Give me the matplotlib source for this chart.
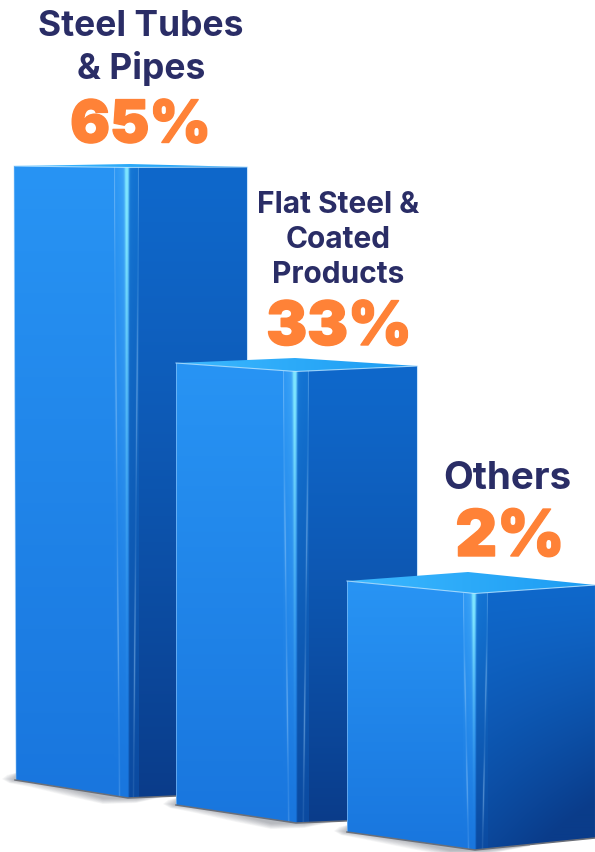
import numpy as np
import matplotlib
matplotlib.use('Agg')
import matplotlib.pyplot as plt
import matplotlib.patheffects as pe
from matplotlib.patches import Polygon
from matplotlib.colors import to_rgb

# --- chart data ---
categories = [['Steel Tubes', '& Pipes'],
              ['Flat Steel &', 'Coated', 'Products'],
              ['Others']]
shares = [65, 33, 2]
# the columns are pictorial: drawn height (px) at each stated share
scale_shares = [2, 33, 65]
scale_heights = [251, 442, 614]

W, H = 595, 852
NAVY = '#2a2d66'
ORANGE = '#ff8237'
FONT = ['Inter', 'DejaVu Sans']

# column outlines in canvas px, y measured down from the top
LEFT_X = [15, 176, 347]
BAND_X = [(114, 139), (283, 309), (463, 488)]
CORNER_X = [128, 296, 475]
RIGHT_X = [247, 417, 595]
BASE_Y = [780, 805, 832]
FRONT_DROP = 18     # front corner sits this far below the left edge
RIGHT_RISE = [5, 5, 12]
TOP_CORNER = [1, 8, 12]
TOP_RIGHT = [1, 3, 4]
TOP_APEX = [-2, -5, -9]
APEX_X = [130, 295, 468]
RIGHT_DARK = [0.0, 0.0, 1.0]
SHADOW_END = [176, 347, 530]

LABEL_X = [141, 338, 507]
LABEL_Y = [[27, 68], [205, 240, 275], [479]]
LABEL_SIZE = [25.5, 21.5, 27.8]
PCT_X = [140.5, 339, 510]
PCT_Y = [127, 329, 539]
PCT_SIZE = [42.5, 44, 46.5]


def mix(a, b, t):
    a, b = np.array(to_rgb(a)), np.array(to_rgb(b))
    t = np.asarray(t)[..., None]
    return a * (1 - t) + b * t


def over(rgb, colour, amount):
    amount = np.clip(amount, 0, 1)[..., None]
    return rgb * (1 - amount) + np.array(to_rgb(colour)) * amount


def paint(ax, pts, rgb, zorder):
    # fill a polygon with a gradient image clipped to its outline
    xs = [p[0] for p in pts]
    ys = [p[1] for p in pts]
    extent = (min(xs), max(xs), max(ys), min(ys))
    im = ax.imshow(rgb, extent=extent, aspect='auto', interpolation='bilinear', zorder=zorder)
    patch = Polygon(pts, closed=True, transform=ax.transData, fc='none', ec='none')
    ax.add_patch(patch)
    im.set_clip_path(patch)
    ax.set_xlim(0, W)
    ax.set_ylim(H, 0)


def grid(nx, ny):
    return np.meshgrid(np.linspace(0, 1, nx), np.linspace(0, 1, ny))


def draw_shadow(ax, x0, xc, x_end, y_base, y_front, zorder):
    # soft grey halo under the front edges, stacked translucent shapes
    x_mid = (x0 + xc) / 2
    y_mid = (y_base + y_front) / 2
    y_end = y_front - 5
    for s in np.linspace(1.0, 0.1, 10):
        pts = [(x0 - 13 * s, y_base - 1), (x0 - 8 * s, y_base - 5 * s), (x0 + 4, y_base - 8),
               (xc, y_front - 8), (x_end, y_end - 8), (x_end, y_end + 1 * s),
               (xc + 8, y_front + 5 * s), (xc - 25, y_front + 6 * s),
               (x_mid, y_mid + 8 * s), (x0 + 15, y_base + 7 * s), (x0 - 6 * s, y_base + 3 * s)]
        ax.add_patch(Polygon(pts, closed=True, fc='#5f6670', ec='none', alpha=0.055, zorder=zorder))


def draw_column(ax, i, height):
    x0, (b0, b1), x1 = LEFT_X[i], BAND_X[i], RIGHT_X[i]
    y_base = BASE_Y[i]
    y_top = y_base - height
    xc = CORNER_X[i]
    y_front = y_base + FRONT_DROP
    y_right = y_front - RIGHT_RISE[i]
    yt_c = y_top + TOP_CORNER[i]
    yt_r = y_top + TOP_RIGHT[i]
    yt_a = y_top + TOP_APEX[i]
    z = 3 + i * 10

    # ground shadow first, behind the column
    draw_shadow(ax, x0, xc, SHADOW_END[i], y_base, y_front, z - 1)

    # left face
    u, v = grid(4, 200)
    left = mix('#2894f4', '#1976de', v)
    paint(ax, [(x0 - (1 if i == 0 else 0), y_top), (xc, yt_c), (xc, y_front),
               (x0 + (1 if i == 0 else 0), y_base)], left, z)

    # right face, darkening downward
    u, v = grid(120, 200)
    t = v ** 1.25
    if RIGHT_DARK[i]:
        t = np.clip(t * (0.72 + 0.55 * u), 0, 1)
    right = mix('#0f68cb', '#0a3c8a', t)
    paint(ax, [(xc, yt_c), (x1, yt_r), (x1, y_right), (xc, y_front)], right, z)

    # rounded front edge: fading highlight and two thin seams that converge downward
    u, v = grid(150, 500)
    uc = (xc - b0) / (b1 - b0)
    rgb = mix('#2894f4', '#1976de', v)
    step = np.clip((u - uc) / 0.06, 0, 1)[..., None]
    rgb = rgb * (1 - step) + mix('#1272d2', '#0b4aa0', v) * step
    fade = (1 - v) ** 1.6
    # broad lift left of the corner, soft falloff right of it, then a sharp bright core
    rgb = over(rgb, '#58b8fa', 0.5 * fade * np.exp(-np.clip(uc - u, 0, None) ** 2 / 0.14) * (u <= uc + 0.05))
    peak = uc - 0.05
    soft = np.exp(-np.clip(u - peak, 0, None) / 0.12) * (u > peak) * (1 - v) ** 3
    rgb = over(rgb, '#2b8fe4', 0.8 * soft)
    width = 0.03 + 0.05 * fade
    core = np.exp(-((u - peak) / width) ** 2) * (1 - v) ** 2.0
    rgb = over(rgb, '#7fe6ff', 1.3 * core)
    seam_l = np.exp(-((u - 0.22 * v) / 0.022) ** 2) * (0.42 + 0.2 * np.cos(v * 17))
    seam_r = np.exp(-((u - 1 + 0.22 * v) / 0.022) ** 2) * (0.4 + 0.22 * np.cos(v * 15 + 1))
    rgb = over(rgb, '#a6d4fb', seam_l)
    rgb = over(rgb, '#a6d4fb', seam_r)
    slope_l = (y_front - y_base) / (xc - x0)
    slope_r = (y_front - y_right) / (x1 - xc)
    paint(ax, [(b0, yt_c), (b1, yt_c), (b1, y_front - (b1 - xc) * slope_r), (xc, y_front),
               (b0, y_front - (xc - b0) * slope_l)], rgb, z)

    # top face
    u, v = grid(200, 4)
    top = mix('#3cb8ff', '#1c9cf2', u)
    paint(ax, [(x0, y_top), (APEX_X[i], yt_a), (x1, yt_r), (xc, yt_c + 0.5)], top, z)
    ax.plot([x0, xc, x1], [y_top, yt_c + 0.5, yt_r], color='#b9e4ff', lw=0.8, alpha=0.8, zorder=z)

    # pale outer edges and the dark lip where the column meets the floor
    ax.plot([x0 - (1 if i == 0 else 0), x0 + (1 if i == 0 else 0)], [y_top, y_base],
            color='#a8d4fb', lw=0.7, alpha=0.5, zorder=z)
    ax.plot([x1, x1], [yt_r, y_right], color='#a8d4fb', lw=0.8, alpha=0.6, zorder=z)
    ax.plot([x0, xc, x1], [y_base, y_front, y_right], color='#6b6f78', lw=1.1, zorder=z)


fig = plt.figure(figsize=(W / 100, H / 100), dpi=100)
ax = fig.add_axes([0, 0, 1, 1])
ax.set_xlim(0, W)
ax.set_ylim(H, 0)
ax.axis('off')

heights = np.interp(shares, scale_shares, scale_heights)
for i, h in enumerate(heights):
    draw_column(ax, i, h)

for i, lines in enumerate(categories):
    for line, y in zip(lines, LABEL_Y[i]):
        ax.text(LABEL_X[i], y, line, ha='center', va='center', color=NAVY,
                fontsize=LABEL_SIZE[i], fontweight='bold', family=FONT, zorder=50)
    ax.text(PCT_X[i], PCT_Y[i], f'{shares[i]}%', ha='center', va='center', color=ORANGE,
            fontsize=PCT_SIZE[i], fontweight='black', family=FONT, zorder=50,
            path_effects=[pe.withStroke(linewidth=1.0, foreground=ORANGE)])

fig.savefig('out.png', dpi=100, facecolor='white')
